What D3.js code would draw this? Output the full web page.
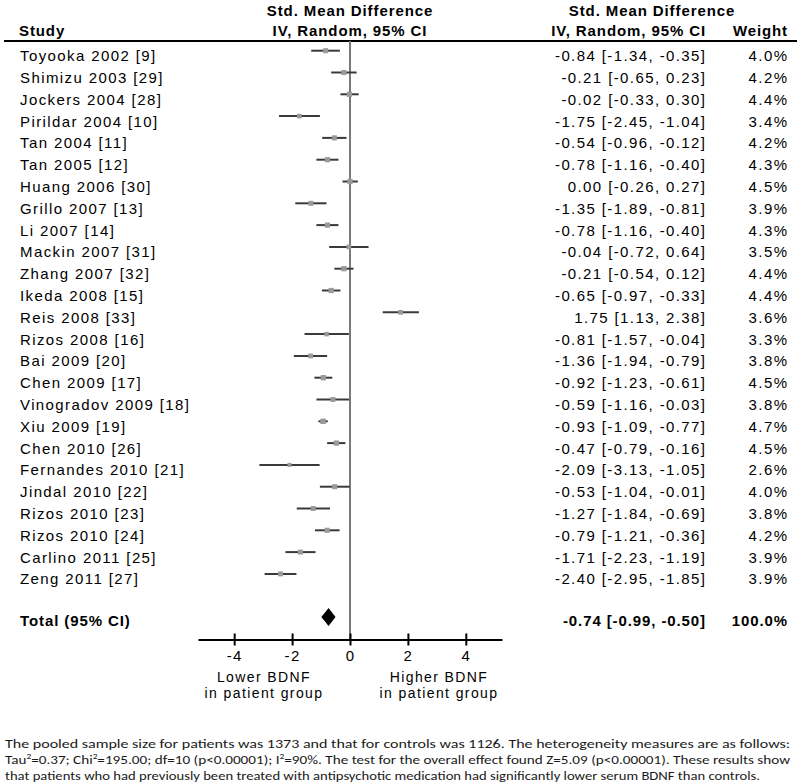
<!DOCTYPE html>
<html>
<head>
<meta charset="utf-8">
<script src="https://cdn.jsdelivr.net/npm/d3@7/dist/d3.min.js"></script>
<style>
  html, body { margin: 0; padding: 0; background: #fff; }
  svg { display: block; }
</style>
</head>
<body>
<svg id="chart" width="797" height="784"></svg>
<script>
// ---------------- DATA ----------------
const studies = [
  "Toyooka 2002 [9]", "Shimizu 2003 [29]", "Jockers 2004 [28]", "Pirildar 2004 [10]",
  "Tan 2004 [11]", "Tan 2005 [12]", "Huang 2006 [30]", "Grillo 2007 [13]",
  "Li 2007 [14]", "Mackin 2007 [31]", "Zhang 2007 [32]", "Ikeda 2008 [15]",
  "Reis 2008 [33]", "Rizos 2008 [16]", "Bai 2009 [20]", "Chen 2009 [17]",
  "Vinogradov 2009 [18]", "Xiu 2009 [19]", "Chen 2010 [26]", "Fernandes 2010 [21]",
  "Jindal 2010 [22]", "Rizos 2010 [23]", "Rizos 2010 [24]", "Carlino 2011 [25]",
  "Zeng 2011 [27]"
];
const smd = [-0.84, -0.21, -0.02, -1.75, -0.54, -0.78, 0.00, -1.35, -0.78, -0.04, -0.21, -0.65,
  1.75, -0.81, -1.36, -0.92, -0.59, -0.93, -0.47, -2.09, -0.53, -1.27, -0.79, -1.71, -2.40];
const ciLow = [-1.34, -0.65, -0.33, -2.45, -0.96, -1.16, -0.26, -1.89, -1.16, -0.72, -0.54, -0.97,
  1.13, -1.57, -1.94, -1.23, -1.16, -1.09, -0.79, -3.13, -1.04, -1.84, -1.21, -2.23, -2.95];
const ciHigh = [-0.35, 0.23, 0.30, -1.04, -0.12, -0.40, 0.27, -0.81, -0.40, 0.64, 0.12, -0.33,
  2.38, -0.04, -0.79, -0.61, -0.03, -0.77, -0.16, -1.05, -0.01, -0.69, -0.36, -1.19, -1.85];
const weights = [4.0, 4.2, 4.4, 3.4, 4.2, 4.3, 4.5, 3.9, 4.3, 3.5, 4.4, 4.4, 3.6, 3.3, 3.8, 4.5,
  3.8, 4.7, 4.5, 2.6, 4.0, 3.8, 4.2, 3.9, 3.9];
const total = { label: "Total (95% CI)", est: -0.74, lo: -0.99, hi: -0.50, weight: 100.0 };
const tickValues = [-4, -2, 0, 2, 4];
const favourLeft = ["Lower BDNF", "in patient group"];
const favourRight = ["Higher BDNF", "in patient group"];

// ---------------- LAYOUT ----------------
const svg = d3.select("#chart");
const FONT = "'Liberation Sans', Arial, sans-serif";
const x = d3.scaleLinear().domain([-5.25, 5.25]).range([198, 502]);
const y = d3.scalePoint().domain(studies).range([50.7, 573.9]);
const totalY = 617;
const axisY = 639.5;
const fmt = v => d3.format(".2f")(v).replace("\u2212", "-");
const fmtW = d3.format(".1f");

const rows = studies.map((s, i) => ({ study: s, est: smd[i], lo: ciLow[i], hi: ciHigh[i], w: weights[i] }));

// header
const hdr = svg.append("g").attr("font-family", FONT).attr("font-weight", "bold")
  .attr("font-size", 15).attr("letter-spacing", 0.9).attr("fill", "#000");
hdr.append("text").attr("x", 19).attr("y", 36).text("Study");
hdr.append("text").attr("x", x(0)).attr("y", 16).attr("text-anchor", "middle").text("Std. Mean Difference");
hdr.append("text").attr("x", x(0)).attr("y", 36).attr("text-anchor", "middle").text("IV, Random, 95% CI");
hdr.append("text").attr("x", 652).attr("y", 16).attr("text-anchor", "middle").text("Std. Mean Difference");
hdr.append("text").attr("x", 706).attr("y", 36).attr("text-anchor", "end").text("IV, Random, 95% CI");
hdr.append("text").attr("x", 788).attr("y", 36).attr("text-anchor", "end").text("Weight");

svg.append("line").attr("x1", 4).attr("x2", 797).attr("y1", 41).attr("y2", 41)
  .attr("stroke", "#000").attr("stroke-width", 2);

// zero line
svg.append("line").attr("x1", x(0)).attr("x2", x(0)).attr("y1", 41).attr("y2", axisY)
  .attr("stroke", "#7a7a7a").attr("stroke-width", 2);

// study rows
const rowG = svg.append("g").selectAll("g").data(rows).join("g");
rowG.append("line")
  .attr("x1", d => x(d.lo)).attr("x2", d => x(d.hi))
  .attr("y1", d => y(d.study)).attr("y2", d => y(d.study))
  .attr("stroke", "#3a3a3a").attr("stroke-width", 2);
rowG.append("rect")
  .attr("x", d => x(d.est) - Math.sqrt(d.w) * 1.25)
  .attr("y", d => y(d.study) - Math.sqrt(d.w) * 1.25)
  .attr("width", d => Math.sqrt(d.w) * 2.5)
  .attr("height", d => Math.sqrt(d.w) * 2.5)
  .attr("fill", "#9a9a9a");

const txt = svg.append("g").attr("font-family", FONT).attr("font-size", 15)
  .attr("letter-spacing", 1.4).attr("fill", "#000");
txt.selectAll("text.study").data(rows).join("text").attr("class", "study")
  .attr("x", 20).attr("y", d => y(d.study) + 10.5).text(d => d.study);
txt.selectAll("text.ci").data(rows).join("text").attr("class", "ci")
  .attr("x", 706.4).attr("y", d => y(d.study) + 10.5).attr("text-anchor", "end")
  .text(d => `${fmt(d.est)} [${fmt(d.lo)}, ${fmt(d.hi)}]`);
txt.selectAll("text.w").data(rows).join("text").attr("class", "w")
  .attr("x", 788.4).attr("y", d => y(d.study) + 10.5).attr("text-anchor", "end")
  .text(d => `${fmtW(d.w)}%`);

// total row
const tot = svg.append("g").attr("font-family", FONT).attr("font-weight", "bold")
  .attr("font-size", 15).attr("letter-spacing", 0.9).attr("fill", "#000");
tot.append("text").attr("x", 20).attr("y", totalY + 9).text(total.label);
tot.append("text").attr("x", 706).attr("y", totalY + 9).attr("text-anchor", "end")
  .text(`${fmt(total.est)} [${fmt(total.lo)}, ${fmt(total.hi)}]`);
tot.append("text").attr("x", 788).attr("y", totalY + 9).attr("text-anchor", "end")
  .text(`${fmtW(total.weight)}%`);
svg.append("path")
  .attr("d", `M${x(total.lo)},${totalY} L${x(total.est)},${totalY - 9} L${x(total.hi)},${totalY} L${x(total.est)},${totalY + 9} Z`)
  .attr("fill", "#000");

// axis
const axis = d3.axisBottom(x).tickValues(tickValues).tickSizeInner(0).tickSizeOuter(0)
  .tickFormat(d => d3.format("d")(d).replace("\u2212", "-"));
const axG = svg.append("g").attr("transform", `translate(0,${axisY})`).call(axis);
axG.select(".domain").attr("stroke", "#000").attr("stroke-width", 2);
axG.selectAll(".tick line").attr("y1", -6).attr("y2", 6).attr("stroke", "#000").attr("stroke-width", 2);
axG.selectAll(".tick text").attr("y", 21).attr("dy", 0)
  .attr("font-family", FONT).attr("font-size", 15).attr("letter-spacing", 1.4)
  .attr("fill", "#000");

// favour labels
const fav = svg.append("g").attr("font-family", FONT).attr("font-size", 14)
  .attr("letter-spacing", 1.4).attr("fill", "#000").attr("text-anchor", "middle");
favourLeft.forEach((t, i) => fav.append("text").attr("x", 264).attr("y", 682 + i * 16).text(t));
favourRight.forEach((t, i) => fav.append("text").attr("x", 439).attr("y", 682 + i * 16).text(t));

// footer
const foot = svg.append("g").attr("font-family", "Carlito, 'Liberation Sans Narrow', 'Liberation Sans', sans-serif")
  .attr("font-size", 13).attr("fill", "#1a1a1a");
const l1 = foot.append("text").attr("x", 5).attr("y", 748)
  .attr("textLength", 785).attr("lengthAdjust", "spacingAndGlyphs");
l1.text("The pooled sample size for patients was 1373 and that for controls was 1126. The heterogeneity measures are as follows:");
const l2 = foot.append("text").attr("x", 5).attr("y", 764)
  .attr("textLength", 785).attr("lengthAdjust", "spacingAndGlyphs");
l2.append("tspan").text("Tau");
l2.append("tspan").attr("font-size", 8).attr("dy", -5).text("2");
l2.append("tspan").attr("dy", 5).text("=0.37; Chi");
l2.append("tspan").attr("font-size", 8).attr("dy", -5).text("2");
l2.append("tspan").attr("dy", 5).text("=195.00; df=10 (p<0.00001); I");
l2.append("tspan").attr("font-size", 8).attr("dy", -5).text("2");
l2.append("tspan").attr("dy", 5).text("=90%. The test for the overall effect found Z=5.09 (p<0.00001). These results show");
foot.append("text").attr("x", 5).attr("y", 779.5)
  .attr("textLength", 755).attr("lengthAdjust", "spacingAndGlyphs")
  .text("that patients who had previously been treated with antipsychotic medication had significantly lower serum BDNF than controls.");
</script>
</body>
</html>
